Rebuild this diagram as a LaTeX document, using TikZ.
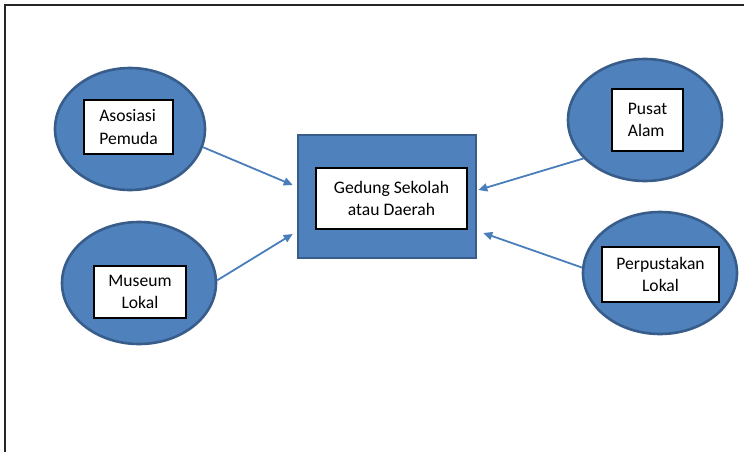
\documentclass[tikz,border=0pt]{standalone}
\usepackage{fontspec}
\setmainfont{Carlito}
\usetikzlibrary{shapes.geometric,arrows.meta}
\definecolor{bluefill}{HTML}{4F81BD}
\definecolor{blueedge}{HTML}{385D8A}
\definecolor{arrowblue}{HTML}{4A7EBB}
\begin{document}
\begin{tikzpicture}[x=1pt,y=-1pt,
  blob/.style={ellipse,fill=bluefill,draw=blueedge,line width=2.6pt,
    minimum width=154pt,minimum height=122pt,inner sep=0pt},
  hub/.style={rectangle,fill=bluefill,draw=blueedge,line width=2.6pt,
    minimum width=178pt,minimum height=123pt,inner sep=0pt},
  label/.style={rectangle,fill=white,draw=black,line width=1.3pt,
    inner sep=0pt,font=\fontsize{17.6}{22.5}\selectfont},
  link/.style={draw=arrowblue,line width=1.8pt,
    -{Triangle[length=9pt,width=8pt]}}
]
\useasboundingbox (0,0) rectangle (744,452);
% page frame
\draw[line width=2pt,color=black!85] (744,5) -- (5,5) -- (5,452);

% central building
\node[hub] (gs) at (387,196.5) {};
\node[label,minimum width=151pt,minimum height=61pt,align=center] (gst) at (391.5,198.5)
  {Gedung Sekolah\\atau Daerah};

% surrounding partners
\node[blob,minimum width=150pt] (aso) at (130,129) {};
\node[label,minimum width=89pt,minimum height=54pt,align=left] (asot) at (128.5,127)
  {Asosiasi\\Pemuda};

\node[blob] (mus) at (139,283) {};
\node[label,minimum width=92pt,minimum height=52pt,align=center] (must) at (140,292)
  {Museum\\Lokal};

\node[blob] (pus) at (645,120) {};
\node[label,minimum width=71pt,minimum height=62pt,align=left] (pust) at (647.5,120)
  {Pusat\\Alam};

\node[blob] (per) at (660,273) {};
\node[label,minimum width=117pt,minimum height=55pt,align=center] (pert) at (660.5,274.5)
  {Perpustakan\\Lokal};

% connections into the hub
\draw[link] (aso.-14) -- ([shift={(-4,-11.5)}]gs.west);
\draw[link] (mus.2) -- ([shift={(-4,37.5)}]gs.west);
\draw[link] (pus.212) -- ([shift={(1,-6.5)}]gs.east);
\draw[link] (per.176) -- ([shift={(6,36.5)}]gs.east);
\end{tikzpicture}
\end{document}
